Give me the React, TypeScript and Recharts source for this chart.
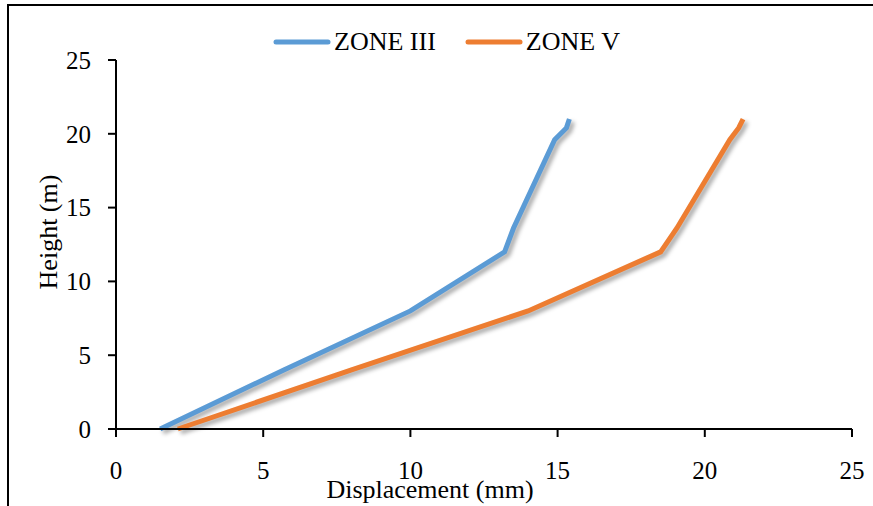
import React from "react";
import { LineChart, Line, XAxis, YAxis, Legend } from "recharts";

const heights = [0, 4, 8, 12, 13.6, 19.6, 20.4, 21];
const zone3Disp = [1.5, 5.7, 10, 13.2, 13.5, 14.9, 15.3, 15.4];
const zone5Disp = [2.1, 8.0, 14.0, 18.5, 19.05, 20.85, 21.15, 21.3];
const axisTicks = [0, 5, 10, 15, 20, 25];

const FONT = '"Liberation Serif", "Times New Roman", serif';

const zone3 = zone3Disp.map((x, i) => ({ x, y: heights[i] }));
const zone5 = zone5Disp.map((x, i) => ({ x, y: heights[i] }));

const renderLegend = (props: any) => {
  const { payload } = props;
  return (
    <div style={{ display: "flex", alignItems: "center", fontFamily: FONT, fontSize: 26, lineHeight: "30px", color: "#000" }}>
      {payload.map((entry: any, i: number) => (
        <div key={i} style={{ display: "flex", alignItems: "center", marginRight: i === 0 ? 29 : 0 }}>
          <svg width={58} height={10} style={{ marginRight: 3 }}>
            <line x1={3} y1={5} x2={55} y2={5} stroke={entry.color} strokeWidth={5} strokeLinecap="round" />
          </svg>
          <span>{entry.value}</span>
        </div>
      ))}
    </div>
  );
};

export default function App() {
  return (
    <div style={{ position: "fixed", left: 0, top: 0, width: 873, height: 506, background: "#fff", overflow: "hidden" }}>
      <style>{`.recharts-line-curve { filter: drop-shadow(3px 3px 2px rgba(0,0,0,0.35)); }`}</style>
      <div style={{ position: "absolute", left: 7, top: 4, width: 900, height: 600, border: "2px solid #000" }} />
      <div style={{ position: "absolute", left: 0, top: 0 }}>
        <LineChart width={873} height={506} margin={{ top: 60, right: 21, bottom: 27, left: 56 }}>
          <XAxis
            dataKey="x"
            type="number"
            domain={[0, 25]}
            ticks={axisTicks}
            height={50}
            tickSize={8}
            tickMargin={24}
            axisLine={{ stroke: "#000", strokeWidth: 2 }}
            tickLine={{ stroke: "#000", strokeWidth: 2 }}
            tick={{ fill: "#000", fontFamily: FONT, fontSize: 25 }}
            label={{
              content: () => (
                <text x={430} y={498} textAnchor="middle" fontFamily={FONT} fontSize={26} fill="#000">
                  Displacement (mm)
                </text>
              ),
            }}
          />
          <YAxis
            dataKey="y"
            type="number"
            domain={[0, 25]}
            ticks={axisTicks}
            width={60}
            tickSize={8}
            tickMargin={17}
            axisLine={{ stroke: "#000", strokeWidth: 2 }}
            tickLine={{ stroke: "#000", strokeWidth: 2 }}
            tick={{ fill: "#000", fontFamily: FONT, fontSize: 25 }}
            label={{
              content: () => (
                <text x={57} y={232} textAnchor="middle" transform="rotate(-90, 57, 232)" fontFamily={FONT} fontSize={26} fill="#000">
                  Height (m)
                </text>
              ),
            }}
          />
          <Legend
            verticalAlign="middle"
            align="center"
            content={renderLegend}
            wrapperStyle={{ top: 27, left: 273, width: 360 }}
          />
          <Line data={zone3} dataKey="y" name="ZONE III" stroke="#5B9BD5" strokeWidth={5} dot={false} isAnimationActive={false} />
          <Line data={zone5} dataKey="y" name="ZONE V" stroke="#ED7D31" strokeWidth={5} dot={false} isAnimationActive={false} />
        </LineChart>
      </div>
    </div>
  );
}
